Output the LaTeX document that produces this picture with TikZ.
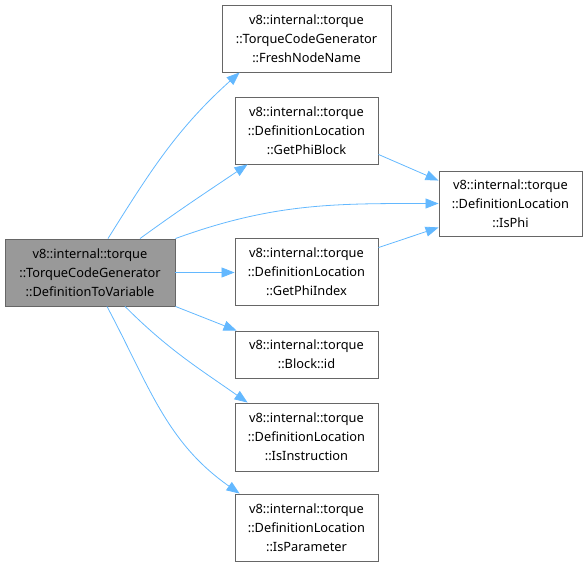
\documentclass[tikz,border=0pt]{standalone}
\usepackage{fontspec}
\setmainfont{Noto Sans}
\usepackage{tikz}
\usetikzlibrary{arrows.meta}
\definecolor{edgeblue}{HTML}{63B8FF}
\definecolor{boxgray}{HTML}{999999}
\definecolor{linegray}{HTML}{666666}

\tikzset{fn/.style={draw=linegray,line width=0.9pt,fill=white,align=center,
    inner sep=0pt,font=\fontsize{12.8}{19}\selectfont},
  call/.style={-{Triangle[length=13pt,width=10pt]},edgeblue,line width=0.8pt}}

\begin{document}
\begin{tikzpicture}[x=1pt,y=-1pt]
\useasboundingbox(0,0)rectangle(588,569);
\node[fn,fill=boxgray,minimum width=170pt,minimum height=67pt](main)at(90,272.5)
  {v8::internal::torque\\::TorqueCodeGenerator\\::DefinitionToVariable};
\node[fn,minimum width=169pt,minimum height=67pt](fresh)at(306.5,38.5)
  {v8::internal::torque\\::TorqueCodeGenerator\\::FreshNodeName};
\node[fn,minimum width=143pt,minimum height=67pt](phiblock)at(306.5,130.5)
  {v8::internal::torque\\::DefinitionLocation\\::GetPhiBlock};
\node[fn,minimum width=143pt,minimum height=65pt](isphi)at(510.5,203.5)
  {v8::internal::torque\\::DefinitionLocation\\::IsPhi};
\node[fn,minimum width=143pt,minimum height=67pt](phiindex)at(306.5,271.5)
  {v8::internal::torque\\::DefinitionLocation\\::GetPhiIndex};
\node[fn,minimum width=143pt,minimum height=47pt](blockid)at(306.5,354.5)
  {v8::internal::torque\\::Block::id};
\node[fn,minimum width=143pt,minimum height=68pt](isinstr)at(306.5,437)
  {v8::internal::torque\\::DefinitionLocation\\::IsInstruction};
\node[fn,minimum width=143pt,minimum height=67pt](isparam)at(306.5,527.5)
  {v8::internal::torque\\::DefinitionLocation\\::IsParameter};
% calls out of DefinitionToVariable
\draw[call]([xshift=18pt]main.north)to[out=58,in=222]([xshift=18pt]fresh.south west);
\draw[call]([xshift=50pt]main.north)to[out=36,in=214]([xshift=13pt]phiblock.south west);
\draw[call](main.north east)to[out=20,in=180](isphi.west);
\draw[call](main.east)--(main.east-|phiindex.west);
\draw[call](main.south east)--([xshift=2pt]blockid.north west);
\draw[call]([xshift=35pt]main.south)to[out=-45,in=145]([xshift=13pt]isinstr.north west);
\draw[call]([xshift=17pt]main.south)to[out=-62,in=145]([xshift=5pt]isparam.north west);
% calls into IsPhi
\draw[call]([yshift=10pt]phiblock.south east)--([yshift=-10pt]isphi.north west);
\draw[call]([yshift=-10pt]phiindex.north east)--([yshift=9pt]isphi.south west);
\end{tikzpicture}
\end{document}
